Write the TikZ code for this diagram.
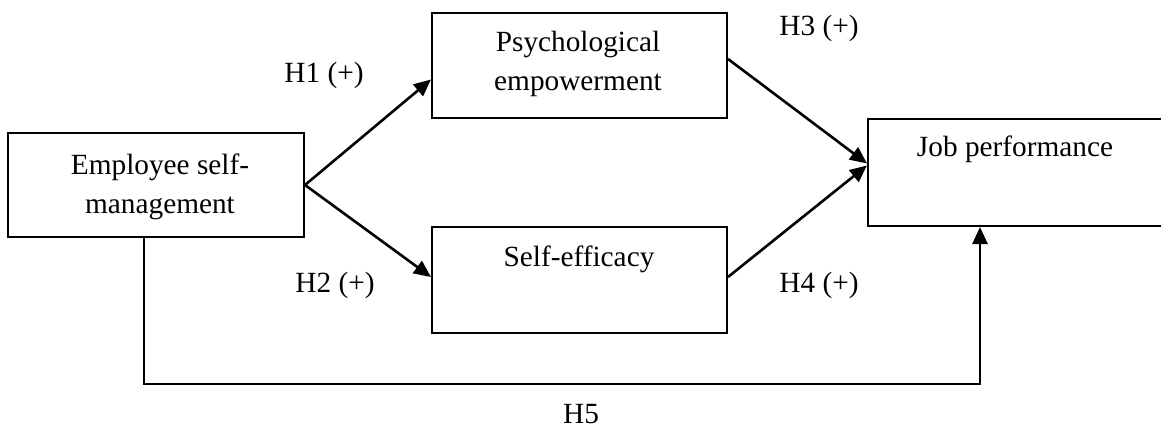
\documentclass[tikz,border=0pt]{standalone}
\usepackage{fontspec}
\setmainfont{Liberation Serif}
\usetikzlibrary{arrows.meta,calc}
\tikzset{
  box/.style={draw, line width=2pt, rectangle, inner sep=0pt, fill=none},
  txt/.style={font=\fontsize{29.3}{39}\selectfont, align=center, inner sep=0pt},
  lbl/.style={font=\fontsize{29.3}{39}\selectfont, inner sep=0pt},
  arr/.style={line width=2.6pt, -{Triangle[length=17pt,width=15pt]}},
}
\begin{document}
\begin{tikzpicture}[x=1pt,y=-1pt]
\useasboundingbox (0,0) rectangle (1161,428);
% boxes
\node[box, minimum width=296pt, minimum height=104pt] (esm) at (156,185) {};
\node[box, minimum width=295pt, minimum height=105pt] (pe) at (579.5,65.5) {};
\node[box, minimum width=295pt, minimum height=106pt] (se) at (579.5,280) {};
\node[box, minimum width=300pt, minimum height=107pt, anchor=west] (jp) at (867,172.5) {};
% texts
\node[txt] (esmt) at (160,187) {Employee self-\\management};
\node[txt] (pet) at (578,64) {Psychological\\empowerment};
\node[txt] (set) at (579,259) {Self-efficacy};
\node[txt] (jpt) at (1015,149) {Job performance};
% labels
\node[lbl] (h1) at (324,75) {H1 (+)};
\node[lbl] (h2) at (335,285) {H2 (+)};
\node[lbl] (h3) at (819,28) {H3 (+)};
\node[lbl] (h4) at (819,285) {H4 (+)};
\node[lbl] (h5) at (581,414) {H5};
% arrows
\draw[arr] (esm.east) -- ([yshift=-14pt]pe.west);
\draw[arr] (esm.east) -- ([yshift=3pt]se.west);
\draw[arr] ([yshift=6.5pt]pe.east) -- ([yshift=9pt]jp.west);
\draw[arr] ([yshift=3pt]se.east) -- ([yshift=7pt]jp.west);
\coordinate (c1) at ([xshift=-12pt]esm.south);
\coordinate (c4) at ([xshift=-38pt]jp.south);
\coordinate (c0) at (0,384);
\coordinate (c2) at (c1 |- c0);
\coordinate (c3) at (c4 |- c0);
\draw[arr] (c1) -- (c2) -- (c3) -- (c4);
\end{tikzpicture}
\end{document}
